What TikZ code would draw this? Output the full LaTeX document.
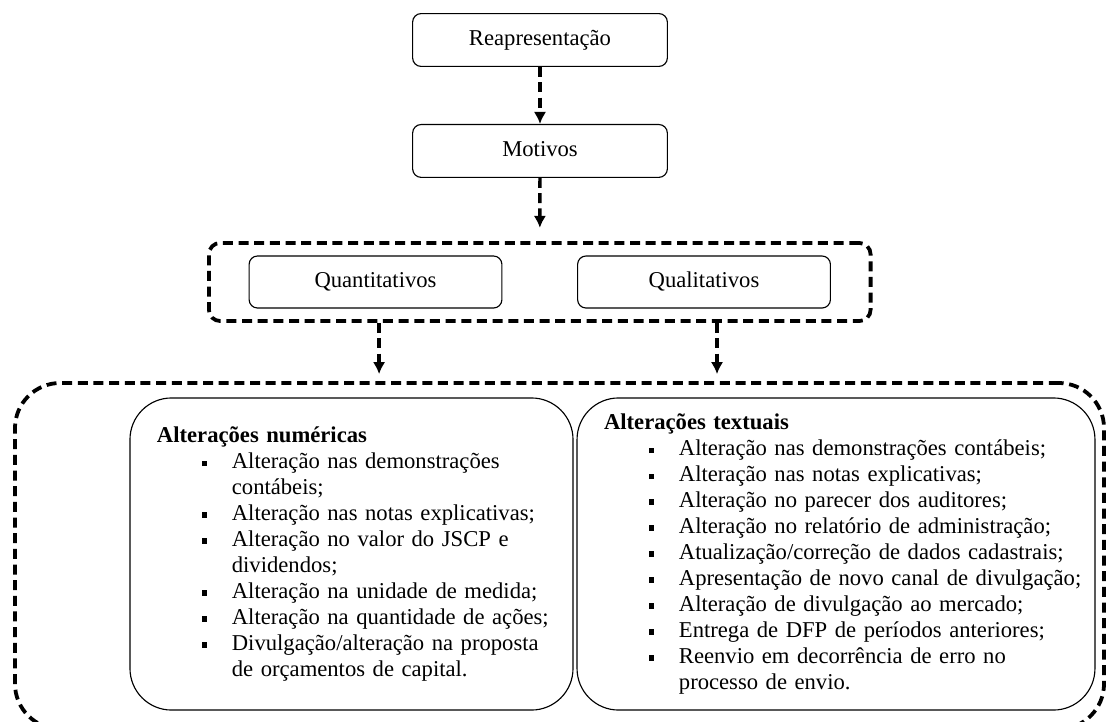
\documentclass[tikz,border=0pt]{standalone}
\usepackage{fontspec}
\setmainfont{Liberation Serif}
\usetikzlibrary{
  arrows.meta,
  positioning,
  fit
}
\newcommand{\bl}[1]{\mbox{\hspace*{23.8pt}\makebox[15.9pt][l]{\raisebox{1.4pt}{\rule{2.9pt}{2.9pt}}}#1}}
\newcommand{\cl}[1]{\mbox{\hspace*{39.7pt}#1}}
\tikzset{
  stepbox/.style={draw,line width=0.6pt,rounded corners=4.5pt,minimum height=28pt,minimum width=135pt,text height=8.5pt,text depth=2.6pt,align=center,font=\fontsize{12}{13.75}\selectfont},
  listbox/.style={draw,line width=0.6pt,rounded corners=22pt,minimum height=165.4pt,inner xsep=14.3pt,inner ysep=0pt,align=left,font=\fontsize{12}{13.75}\selectfont},
  groupbox/.style={draw,line width=2pt,dash pattern=on 5.3pt off 3pt,rounded corners=6pt},
  outerbox/.style={draw,line width=2pt,dash pattern=on 5.3pt off 3pt,rounded corners=24pt,inner sep=0pt,minimum width=577.2pt,minimum height=183.4pt},
  flow/.style={-{Latex[length=6.4pt,width=6.6pt]},line width=1.8pt,dash pattern=on 5.3pt off 2.8pt}
}

\begin{document}
\begin{tikzpicture}[x=0.53pt,y=-0.53pt]
\useasboundingbox (0,0) rectangle (1106,722);
\clip (0,0) rectangle (1106,722);

\node[stepbox] (reap) at (540,40) {Reapresentação};
\node[stepbox, below=30.2pt of reap] (mot) {Motivos};
\node[stepbox, minimum width=134pt, minimum height=27.6pt] (quanti) at (375.5,282) {Quantitativos};
\node[stepbox, minimum width=134pt, minimum height=27.6pt] (quali) at (704,282) {Qualitativos};
\node[groupbox, fit=(quanti)(quali), inner xsep=21pt, inner ysep=6.6pt] (grp) {};

\node[outerbox] (outer) at (559.5,556) {};
\node[listbox, text width=206.2pt, minimum width=234.8pt] (numer) at (351.5,554) {%
\textbf{Alterações numéricas}\\
\bl{Alteração nas demonstrações}\\
\cl{contábeis;}\\
\bl{Alteração nas notas explicativas;}\\
\bl{Alteração no valor do JSCP e}\\
\cl{dividendos;}\\
\bl{Alteração na unidade de medida;}\\
\bl{Alteração na quantidade de ações;}\\
\bl{Divulgação/alteração na proposta}\\
\cl{de orçamentos de capital.}};
\node[listbox, text width=245.9pt, minimum width=274.5pt] (textu) at (836,554) {%
\textbf{Alterações textuais}\\
\bl{Alteração nas demonstrações contábeis;}\\
\bl{Alteração nas notas explicativas;}\\
\bl{Alteração no parecer dos auditores;}\\
\bl{Alteração no relatório de administração;}\\
\bl{Atualização/correção de dados cadastrais;}\\
\bl{Apresentação de novo canal de divulgação;}\\
\bl{Alteração de divulgação ao mercado;}\\
\bl{Entrega de DFP de períodos anteriores;}\\
\bl{Reenvio em decorrência de erro no}\\
\cl{processo de envio.}};

\coordinate (qa) at ([xshift=1.9pt]quanti.south);
\coordinate (qb) at ([xshift=6.9pt]quali.south);

\draw[flow] (reap) -- (mot);
\draw[flow, shorten >=7pt] (mot) -- (grp);
\draw[flow, shorten >=3.7pt] (qa |- grp.south) -- (qa |- outer.north);
\draw[flow, shorten >=3.7pt] (qb |- grp.south) -- (qb |- outer.north);
\end{tikzpicture}
\end{document}
